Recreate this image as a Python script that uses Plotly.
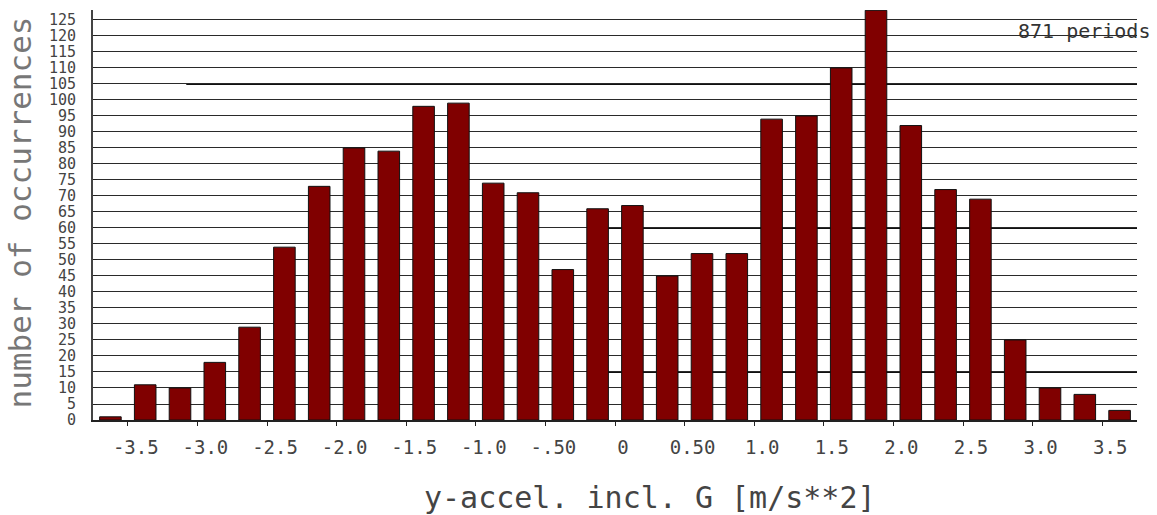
import plotly.graph_objects as go

# Histogram of lateral (y) acceleration, bin width 0.25 m/s**2
bin_centers = [-3.625, -3.375, -3.125, -2.875, -2.625, -2.375, -2.125, -1.875,
               -1.625, -1.375, -1.125, -0.875, -0.625, -0.375, -0.125, 0.125,
               0.375, 0.625, 0.875, 1.125, 1.375, 1.625, 1.875, 2.125,
               2.375, 2.625, 2.875, 3.125, 3.375, 3.625]
occurrences = [1, 11, 10, 18, 29, 54, 73, 85, 84, 98, 99, 74, 71, 47, 66, 67,
               45, 52, 52, 94, 95, 110, 128, 92, 72, 69, 25, 10, 8, 3]

x_tick_values = [-3.5, -3.0, -2.5, -2.0, -1.5, -1.0, -0.5, 0.0,
                 0.5, 1.0, 1.5, 2.0, 2.5, 3.0, 3.5]
x_tick_labels = ["-3.5", "-3.0", "-2.5", "-2.0", "-1.5", "-1.0", "-.50", "0",
                 "0.50", "1.0", "1.5", "2.0", "2.5", "3.0", "3.5"]
y_tick_values = list(range(0, 130, 5))
y_tick_labels = [str(v) for v in y_tick_values]

n_periods = 871

MONO = "DejaVu Sans Mono"
BAR_COLOR = "#800000"
GRID_COLOR = "#2a2a2a"

fig = go.Figure()
fig.add_trace(go.Bar(
    x=bin_centers,
    y=occurrences,
    marker=dict(color=BAR_COLOR, line=dict(color="#111111", width=1)),
    hoverinfo="x+y",
))

# heavier rule segments drawn over a few grid lines
heavy_rules = [(-3.08, 105), (-0.12, 60), (-0.07, 15)]
for x0, yv in heavy_rules:
    fig.add_shape(type="line", xref="x", yref="y", x0=x0, x1=3.75, y0=yv, y1=yv,
                  line=dict(color="#111111", width=2), layer="below")

fig.update_layout(
    width=1157, height=515,
    margin=dict(l=93, r=20, t=10, b=95),
    paper_bgcolor="white",
    plot_bgcolor="white",
    showlegend=False,
    bargap=0.38,
    font=dict(family=MONO, color="#222222"),
    xaxis=dict(
        range=[-3.75, 3.75],
        tickmode="array",
        tickvals=x_tick_values,
        ticktext=x_tick_labels,
        ticks="outside", ticklen=4, tickcolor="#222222", tickwidth=1,
        showline=True, linecolor="#222222", linewidth=1.5,
        showgrid=False, zeroline=False,
        tickfont=dict(family=MONO, size=19, color="#444444"),
        ticklabelstandoff=5,
        ticklabelshift=8,
    ),
    yaxis=dict(
        range=[0, 128.1],
        tickmode="array",
        tickvals=y_tick_values,
        ticktext=y_tick_labels,
        ticks="inside", ticklen=4, tickcolor="#222222", tickwidth=1,
        showline=True, linecolor="#444444", linewidth=2,
        showgrid=True, gridcolor=GRID_COLOR, gridwidth=1,
        zeroline=False,
        tickfont=dict(family=MONO, size=15, color="#444444"),
        ticklabelstandoff=12,
    ),
    annotations=[
        dict(text="number of occurrences", xref="paper", yref="paper",
             x=-0.07, y=0.506, xanchor="center", yanchor="middle",
             textangle=-90, showarrow=False,
             font=dict(family=MONO, size=31, color="#777777")),
        dict(text="y-accel. incl. G [m/s**2]", xref="paper", yref="paper",
             x=0.5335, y=-0.188, xanchor="center", yanchor="middle",
             showarrow=False,
             font=dict(family=MONO, size=30, color="#444444")),
        dict(text=f"{n_periods} periods", xref="paper", yref="paper",
             x=1.0144, y=0.949, xanchor="right", yanchor="middle",
             showarrow=False,
             font=dict(family=MONO, size=20, color="#333333")),
    ],
)

fig.write_html("out.html")
